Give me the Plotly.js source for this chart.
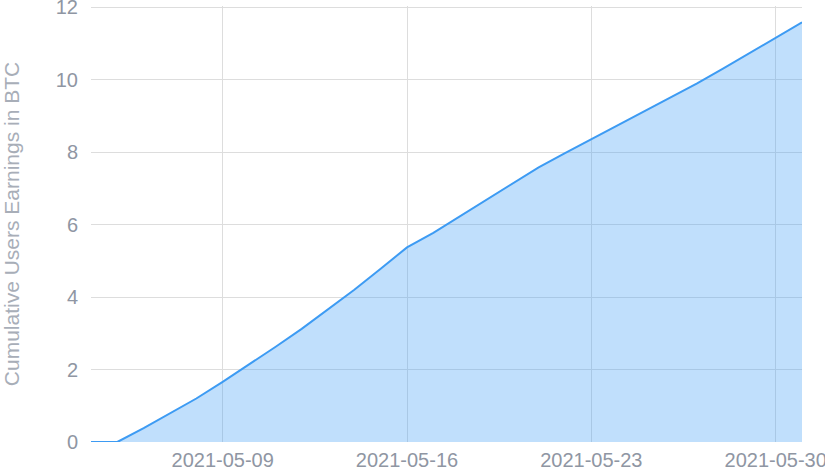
<!DOCTYPE html>
<html>
<head>
<meta charset="utf-8">
<script src="https://cdn.plot.ly/plotly-3.0.1.min.js"></script>
<style>html,body{margin:0;padding:0;background:#fff;}#chart{width:825px;height:471px;}</style>
</head>
<body>
<div id="chart"></div>
<script>
const dates = [
  "2021-05-04","2021-05-05","2021-05-06","2021-05-07","2021-05-08","2021-05-09","2021-05-10",
  "2021-05-11","2021-05-12","2021-05-13","2021-05-14","2021-05-15","2021-05-16","2021-05-17",
  "2021-05-18","2021-05-19","2021-05-20","2021-05-21","2021-05-22","2021-05-23","2021-05-24",
  "2021-05-25","2021-05-26","2021-05-27","2021-05-28","2021-05-29","2021-05-30","2021-05-31"
];
const earnings = [
  0, 0, 0.38, 0.78, 1.2, 1.66, 2.13,
  2.62, 3.12, 3.65, 4.2, 4.78, 5.37, 5.77,
  6.22, 6.67, 7.12, 7.58, 7.97, 8.35, 8.74,
  9.12, 9.5, 9.89, 10.3, 10.72, 11.15, 11.58
];
const yTicks = [0, 2, 4, 6, 8, 10, 12];
const xTicks = ["2021-05-09","2021-05-16","2021-05-23","2021-05-30"];
const yTitle = "Cumulative Users Earnings in BTC";

const trace = {
  x: dates, y: earnings, type: "scatter", mode: "lines",
  fill: "tozeroy", fillcolor: "rgba(59,155,247,0.32)",
  line: {color: "#3d9bf3", width: 2}, hoverinfo: "x+y"
};
const tickFont = {family: "Liberation Sans, Arial, sans-serif", size: 20, color: "#8f96a3"};
const layout = {
  width: 825, height: 471,
  margin: {l: 91, r: 23, t: 6, b: 29},
  paper_bgcolor: "#fff", plot_bgcolor: "#fff",
  showlegend: false,
  xaxis: {
    type: "date", range: ["2021-05-04", "2021-05-31"],
    tickvals: xTicks, ticktext: xTicks,
    showgrid: true, gridcolor: "#dddddd", gridwidth: 1,
    zeroline: false, showline: false,
    tickfont: tickFont, ticks: "", ticklabelstandoff: 4,
    ticklabeloverflow: "allow"
  },
  yaxis: {
    range: [0, 12.03], tickvals: yTicks,
    showgrid: true, gridcolor: "#dddddd", gridwidth: 1,
    zeroline: false, showline: false,
    tickfont: tickFont, ticks: "outside", ticklen: 8, tickcolor: "rgba(0,0,0,0)",
    ticklabeloverflow: "allow",
    title: {text: yTitle, font: {family: "Liberation Sans, Arial, sans-serif", size: 21, color: "#a8aeb8"}, standoff: 42}
  }
};
Plotly.newPlot("chart", [trace], layout, {displayModeBar: false, staticPlot: true});
</script>
</body>
</html>
